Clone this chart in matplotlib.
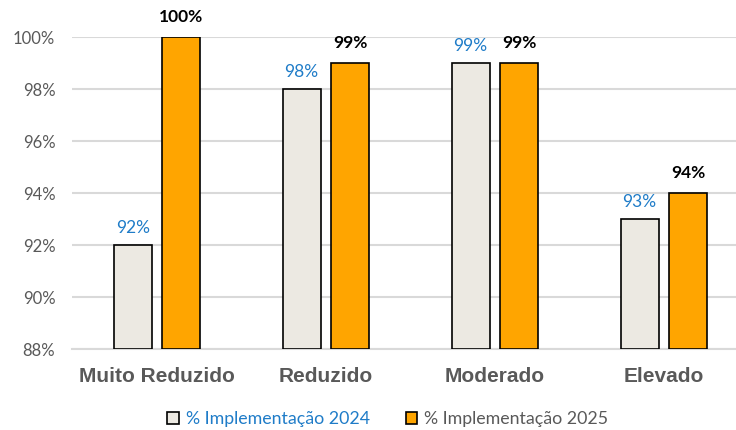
import matplotlib
matplotlib.use("Agg")
import matplotlib.pyplot as plt
from matplotlib.patches import Patch
import numpy as np

categories = ["Muito Reduzido", "Reduzido", "Moderado", "Elevado"]
impl_2024 = [92, 98, 99, 93]
impl_2025 = [100, 99, 99, 94]
yticks = [88, 90, 92, 94, 96, 98, 100]
series_names = ["% Implementação 2024", "% Implementação 2025"]

num_font = ["Lato", "DejaVu Sans"]
cat_font = ["Liberation Sans", "DejaVu Sans"]

fig = plt.figure(figsize=(7.36, 4.30), dpi=100)
ax = fig.add_axes([72/736, 81/430, (736-72)/736, 312/430])

x = np.arange(len(categories))
w = 0.225
off = 0.144
ax.bar(x - off, np.array(impl_2024) - 88, w, bottom=88, color="#ECE9E2",
       edgecolor="black", linewidth=1.2, zorder=3)
ax.bar(x + off, np.array(impl_2025) - 88, w, bottom=88, color="#FFA500",
       edgecolor="black", linewidth=1.2, zorder=3)

for xi, v in zip(x, impl_2024):
    ax.annotate(f"{v}%", (xi - off, v), xytext=(0, 6.5), textcoords="offset points",
                ha="center", va="bottom", color="#1F7CC8", fontsize=12.5,
                family=num_font, clip_on=False)
for xi, v in zip(x, impl_2025):
    ax.annotate(f"{v}%", (xi + off, v), xytext=(0, 8.5), textcoords="offset points",
                ha="center", va="bottom", color="black", fontsize=12.5,
                fontweight="bold", family=num_font, clip_on=False)

ax.set_ylim(88, 100)
ax.set_xlim(-0.503, 3.426)
ax.set_yticks(yticks)
ax.set_yticklabels([f"{t}%" for t in yticks], family=num_font, fontsize=12, color="#595959")
ax.set_xticks(x)
ax.set_xticklabels(categories, family=cat_font, fontsize=15, fontweight="bold", color="#595959")
ax.tick_params(axis="both", length=0)
ax.tick_params(axis="y", pad=12)
ax.tick_params(axis="x", pad=13)
ax.grid(axis="y", color="#D9D9D9", linewidth=1.5, zorder=0)
for s in ["top", "right", "left"]:
    ax.spines[s].set_visible(False)
ax.spines["bottom"].set_color("#D9D9D9")
ax.spines["bottom"].set_linewidth(1.5)

handles = [Patch(facecolor="#ECE9E2", edgecolor="black", linewidth=1.2),
           Patch(facecolor="#FFA500", edgecolor="black", linewidth=1.2)]
leg = fig.legend(handles, series_names, loc="center", bbox_to_anchor=(388/736, 1 - 419/430),
                 ncol=2, frameon=False, prop={"family": num_font, "size": 12.8},
                 handlelength=0.65, handleheight=0.65, handletextpad=0.4, columnspacing=2.0)
leg.get_texts()[0].set_color("#1F7CC8")
leg.get_texts()[1].set_color("#595959")

fig.savefig("out.png", dpi=100)
